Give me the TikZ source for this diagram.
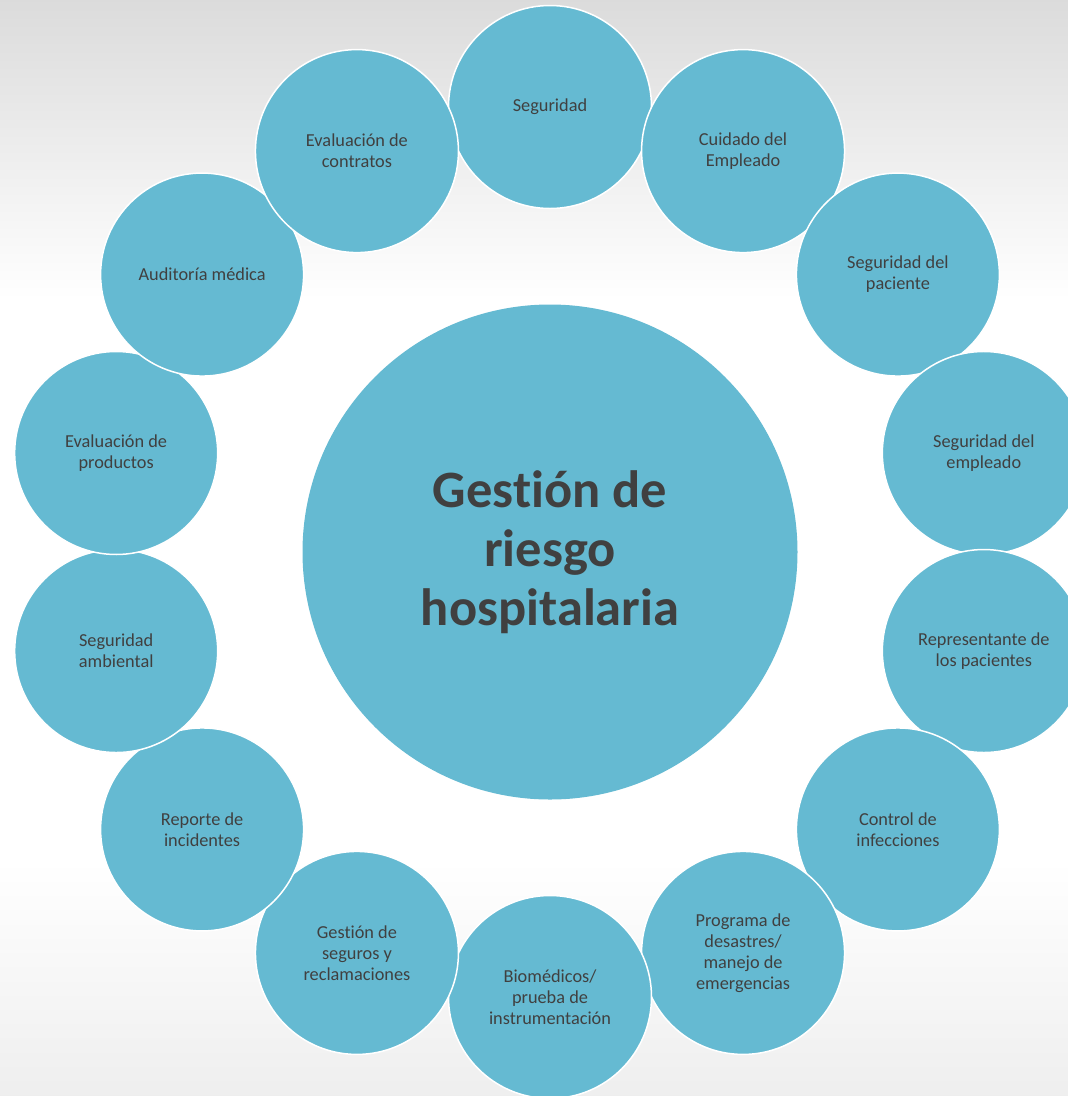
\documentclass[tikz,border=0pt]{standalone}
\usepackage{fontspec}
\setmainfont{Carlito}[Ligatures=CommonOff]
\usepackage{tikz}
\definecolor{riskblue}{RGB}{101,186,210}
\definecolor{risktext}{RGB}{64,64,64}

\begin{document}
\begin{tikzpicture}[x=1pt,y=-1pt,
    area/.style={circle,draw=white,line width=1.5pt,fill=riskblue,text=risktext,
                 align=center,inner sep=0pt,minimum size=203pt,
                 font=\fontsize{18.3}{21}\selectfont},
    hub/.style={circle,fill=riskblue,text=risktext,align=center,inner sep=0pt,
                minimum size=495pt,font=\fontsize{52.5}{59}\selectfont\bfseries}]
    \useasboundingbox (0,0) rectangle (1068,1096);
    % backdrop
    \shade[top color=gray!28,bottom color=white] (0,0) rectangle (1068,300);
    \shade[top color=white,bottom color=gray!13] (0,860) rectangle (1068,1096);
    \fill[white] (316,300) rectangle (790,747);

    \node (hub) [hub] at (550,552) {Gestión de\\riesgo\\hospitalaria};

    % ring of areas, clockwise from the top
    \foreach \txt [count=\i from 0] in {{Seguridad},{Cuidado del\\Empleado},
        {Seguridad del\\paciente},{Seguridad del\\empleado},
        {Representante de\\los pacientes},{Control de\\infecciones},
        {Programa de\\desastres/\\manejo de\\emergencias},
        {Biomédicos/\\prueba de\\instrumentación},
        {Gestión de\\seguros y\\reclamaciones},{Reporte de\\incidentes},
        {Seguridad\\ambiental},{Evaluación de\\productos},
        {Auditoría médica},{Evaluación de\\contratos}}
        \path (hub.center) ++({90-\i*360/14}:445pt) node (area\i) [area] {\txt};
\end{tikzpicture}
\end{document}
